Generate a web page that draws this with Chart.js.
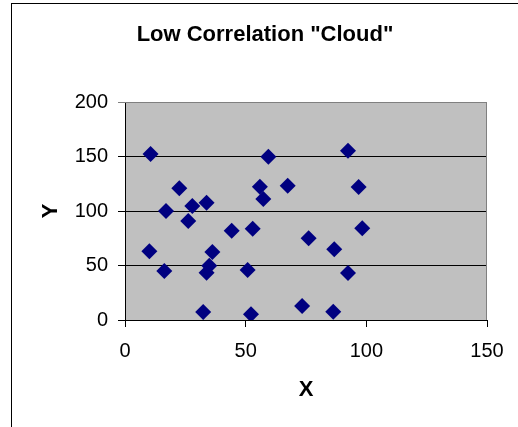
<!DOCTYPE html>
<html>
<head>
<meta charset="utf-8">
<script src="https://cdn.jsdelivr.net/npm/chart.js@4"></script>
<style>
  body { margin: 0; background: #fff; overflow: hidden; }
  #frame { position: absolute; left: 11px; top: 3px; width: 600px; height: 500px;
           border-left: 1px solid #000; border-top: 1px solid #000; }
  #chart { position: absolute; left: 0; top: 0; }
</style>
</head>
<body>
<div id="frame"></div>
<canvas id="chart" width="518" height="427"></canvas>
<script>
// data
var titulo = 'Low Correlation "Cloud"';
var xValues = [10.6, 59.4, 22.5, 55.9, 67.4, 57.3, 17.0, 27.9, 33.8, 26.2, 44.2, 52.9, 10.1, 36.2,
               16.3, 34.9, 33.8, 50.8, 32.4, 52.2, 92.4, 96.8, 98.3, 76.1, 86.7, 92.4, 73.4, 86.3];
var yValues = [152.3, 149.8, 120.8, 122.3, 123.2, 111.0, 100.0, 104.6, 107.6, 90.8, 81.9, 83.8, 63.0, 62.4,
               45.0, 49.8, 43.4, 45.9, 7.3, 5.2, 155.3, 122.0, 84.1, 75.0, 64.9, 43.1, 12.8, 7.6];
var xTicks = [0, 50, 100, 150];
var yTicks = [0, 50, 100, 150, 200];

const pontos = xValues.map((x, i) => ({ x: x, y: yValues[i] }));

const fonte = 'Arial, "Liberation Sans", sans-serif';

// fundo cinza da area do grafico + borda cinza em cima e a direita
const fundoPlugin = {
  id: 'fundo',
  beforeDraw(chart) {
    const a = chart.chartArea, ctx = chart.ctx;
    ctx.save();
    ctx.fillStyle = '#c0c0c0';
    ctx.fillRect(a.left, a.top, a.right - a.left, a.bottom - a.top);
    ctx.restore();
  },
  beforeDatasetsDraw(chart) {
    const a = chart.chartArea, ctx = chart.ctx;
    ctx.save();
    ctx.strokeStyle = '#808080';
    ctx.lineWidth = 1;
    ctx.beginPath();
    ctx.moveTo(a.left, a.top + 0.5);
    ctx.lineTo(a.right - 0.5, a.top + 0.5);
    ctx.lineTo(a.right - 0.5, a.bottom);
    ctx.stroke();
    ctx.restore();
  }
};

const config = {
  type: 'scatter',
  data: {
    datasets: [{
      label: 'Y',
      data: pontos,
      pointStyle: 'rectRot',
      pointRadius: 8,
      pointHoverRadius: 8,
      borderWidth: 0,
      backgroundColor: '#000080',
      borderColor: '#000080'
    }]
  },
  options: {
    responsive: false,
    animation: false,
    layout: { padding: { left: 43, right: 31, top: 0, bottom: 0 } },
    plugins: {
      legend: { display: false },
      tooltip: { enabled: false },
      title: {
        display: true,
        text: titulo,
        color: '#000',
        font: { family: fonte, size: 22, weight: 'bold' },
        padding: { top: 21.8, bottom: 53.8 }
      }
    },
    scales: {
      x: {
        type: 'linear',
        min: 0,
        max: 150,
        afterBuildTicks: (s) => { s.ticks = xTicks.map(v => ({ value: v })); },
        afterFit: (s) => { s.height = 107; },
        ticks: { color: '#000', font: { family: fonte, size: 20 }, padding: 12 },
        grid: { drawOnChartArea: false, tickLength: 7, color: '#000' },
        border: { color: '#000', width: 1 },
        title: { display: true, text: 'X', color: '#000',
                 font: { family: fonte, size: 22, weight: 'bold' }, padding: { top: 0, bottom: 24 } }
      },
      y: {
        type: 'linear',
        min: 0,
        max: 200,
        afterBuildTicks: (s) => { s.ticks = yTicks.map(v => ({ value: v })); },
        afterFit: (s) => { s.width = 82; },
        ticks: { color: '#000', font: { family: fonte, size: 20 }, padding: 10 },
        grid: { color: (c) => c.tick && c.tick.value === 200 ? '#808080' : '#000', tickLength: 7 },
        border: { color: '#000', width: 1 },
        title: { display: true, text: 'Y', color: '#000',
                 font: { family: fonte, size: 22, weight: 'bold' }, padding: { top: -5, bottom: 0 } }
      }
    }
  },
  plugins: [fundoPlugin]
};

let myChart = new Chart(document.getElementById('chart'), config);
</script>
</body>
</html>
